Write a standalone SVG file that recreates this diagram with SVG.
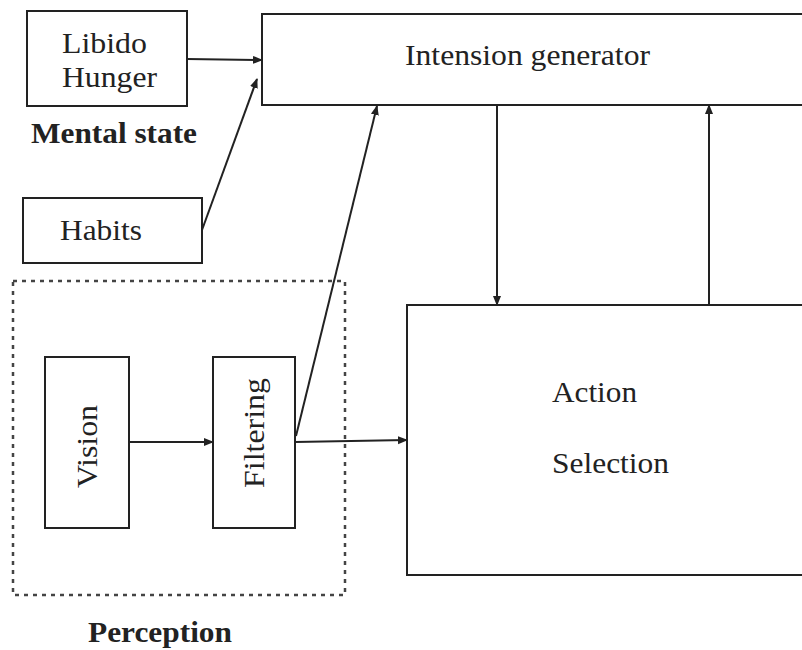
<svg xmlns="http://www.w3.org/2000/svg" width="802" height="650" viewBox="0 0 802 650">
<style>
.box{fill:#fff;stroke:#222;stroke-width:2}
.dash{fill:none;stroke:#444;stroke-width:2.5;stroke-dasharray:4,5}
.t{font-family:'Liberation Serif','Times New Roman',Times,serif;font-size:29px;fill:#222}
.b{font-family:'Liberation Serif','Times New Roman',Times,serif;font-size:29px;font-weight:bold;fill:#222}
.c{fill:none;stroke:#222;stroke-width:2;marker-end:url(#ah)}
</style>
<defs>
<marker id="ah" viewBox="0 0 10 10" refX="9" refY="5" markerWidth="5" markerHeight="5" orient="auto" markerUnits="strokeWidth">
<path d="M0,1 L10,5 L0,9 z" fill="#222"/>
</marker>
</defs>
<rect width="802" height="650" fill="#fff"/>
<g id="perception">
<rect class="dash" x="13" y="281" width="332" height="314"/>
<text class="b" x="88" y="642" textLength="144" lengthAdjust="spacingAndGlyphs">Perception</text>
</g>
<g id="mental">
<rect class="box" x="27" y="11" width="160" height="95"/>
<text class="t" x="62" y="53" textLength="85" lengthAdjust="spacingAndGlyphs">Libido</text>
<text class="t" x="62" y="87" textLength="95" lengthAdjust="spacingAndGlyphs">Hunger</text>
<text class="b" x="31" y="143" textLength="166" lengthAdjust="spacingAndGlyphs">Mental state</text>
</g>
<g id="habits">
<rect class="box" x="23" y="198" width="179" height="65"/>
<text class="t" x="60" y="240" textLength="82" lengthAdjust="spacingAndGlyphs">Habits</text>
</g>
<g id="intension">
<rect class="box" x="262" y="14" width="545" height="91"/>
<text class="t" x="405" y="65" textLength="245" lengthAdjust="spacingAndGlyphs">Intension generator</text>
</g>
<g id="vision">
<rect class="box" x="45" y="357" width="84" height="171"/>
<text class="t" transform="translate(97,488) rotate(-90)" textLength="83" lengthAdjust="spacingAndGlyphs">Vision</text>
</g>
<g id="filtering">
<rect class="box" x="213" y="357" width="82" height="171"/>
<text class="t" transform="translate(264,488) rotate(-90)" textLength="110" lengthAdjust="spacingAndGlyphs">Filtering</text>
</g>
<g id="action">
<rect class="box" x="407" y="305" width="400" height="270"/>
<text class="t" x="552" y="402" textLength="85" lengthAdjust="spacingAndGlyphs">Action</text>
<text class="t" x="552" y="473" textLength="117" lengthAdjust="spacingAndGlyphs">Selection</text>
</g>
<g id="connectors">
<line class="c" x1="187" y1="59" x2="262" y2="60"/>
<line class="c" x1="202" y1="230" x2="257" y2="79"/>
<line class="c" x1="296" y1="436" x2="377" y2="106"/>
<line class="c" x1="129" y1="442" x2="213" y2="442"/>
<line class="c" x1="295" y1="442" x2="407" y2="440"/>
<line class="c" x1="497" y1="105" x2="497" y2="305"/>
<line class="c" x1="709" y1="305" x2="709" y2="105"/>
</g>
</svg>
